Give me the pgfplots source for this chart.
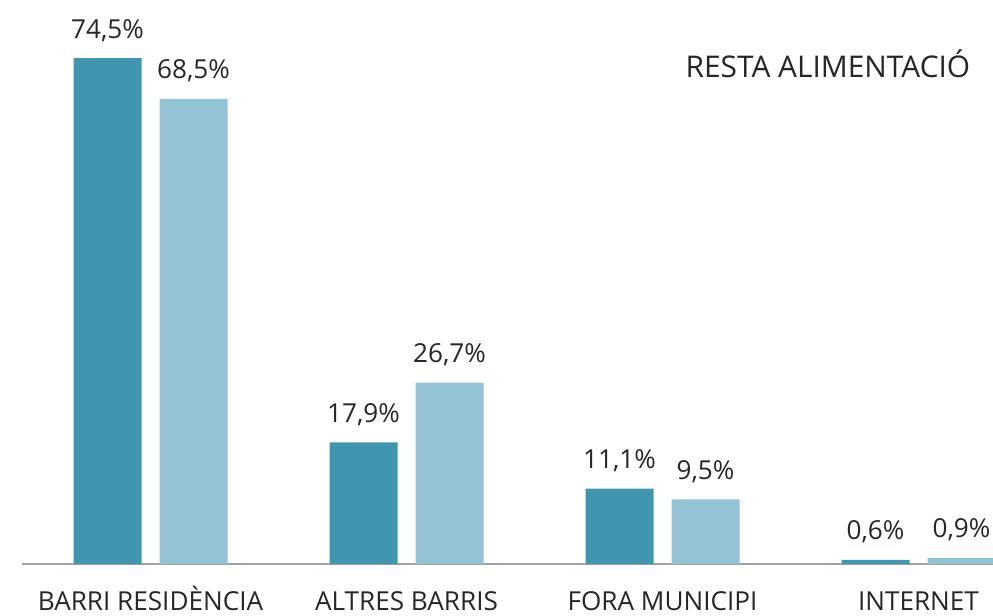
\documentclass[border=0pt]{standalone}
\usepackage{pgfplots}
\pgfplotsset{compat=1.18}
\usepackage{fontspec}
\setmainfont{Open Sans}
\definecolor{dark}{HTML}{4295AE}
\definecolor{light}{HTML}{94C3D4}
\definecolor{axgray}{HTML}{A0A0A0}
\begin{document}
\begin{tikzpicture}
\useasboundingbox (-16.5pt,-38.25pt) rectangle (728.25pt,423pt);
\begin{axis}[
  at={(0,0)}, anchor=south west,
  scale only axis, width=728.25pt, height=423pt,
  xmin=-0.502, xmax=3.291, ymin=0, ymax=83.06,
  axis x line*=bottom, axis y line=none,
  x axis line style={axgray, line width=1.5pt, -},
  xtick={0,1,2,3},
  xticklabels={BARRI RESIDÈNCIA, ALTRES BARRIS, FORA MUNICIPI, INTERNET},
  major tick length=0pt,
  xticklabel style={anchor=base, yshift=-34.5pt, font=\fontsize{19.6}{22}\selectfont, text=black!85},
  ytick=\empty,
  ybar, bar width=51pt,
  point meta=explicit symbolic,
  nodes near coords,
  nodes near coords style={anchor=base, yshift=15pt, font=\fontsize{19.6}{22}\selectfont, text=black!85},
]
\addplot[fill=dark, draw=none, bar shift=-32.25pt] coordinates {
  (0,74.5) [74,5\%]
  (1,17.9) [17,9\%]
  (2,11.1) [11,1\%]
  (3,0.6) [0,6\%]
};
\addplot[fill=light, draw=none, bar shift=32.25pt] coordinates {
  (0,68.5) [68,5\%]
  (1,26.7) [26,7\%]
  (2,9.5) [9,5\%]
  (3,0.9) [0,9\%]
};
\node[anchor=base, font=\fontsize{22.4}{26}\selectfont, text=black!85] at (axis cs:2.646,71.7) {RESTA ALIMENTACIÓ};
\end{axis}
\end{tikzpicture}
\end{document}
